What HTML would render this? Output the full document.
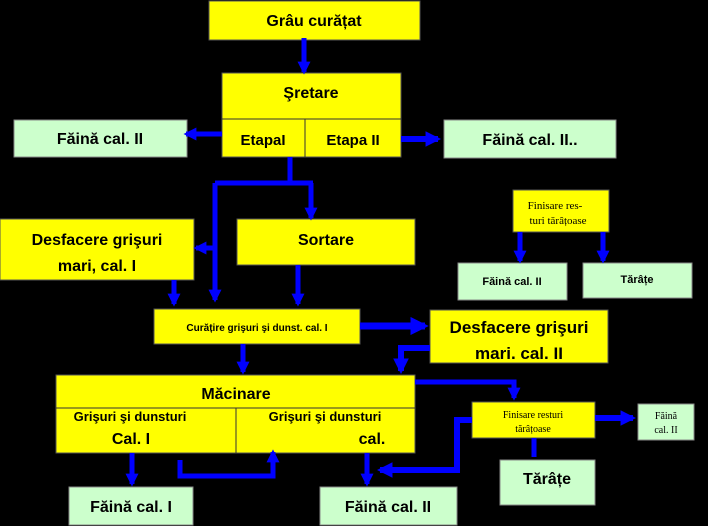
<!DOCTYPE html>
<html><head><meta charset="utf-8"><style>
html,body{margin:0;padding:0;background:#000;}
svg{display:block}
text{font-family:"Liberation Sans",sans-serif;font-weight:bold;fill:#000;text-anchor:middle}
.s{font-family:"Liberation Serif",serif;font-weight:normal}
</style></head><body>
<svg width="708" height="526" viewBox="0 0 708 526" xmlns="http://www.w3.org/2000/svg">
<rect width="708" height="526" fill="#000"/>
<defs>
<marker id="a" viewBox="0 0 10 10" refX="8" refY="5" markerWidth="2.6" markerHeight="2.6" orient="auto" markerUnits="strokeWidth"><path d="M0,0L10,5L0,10z" fill="#0000ff"/></marker>
</defs>
<g fill="#ffff00" stroke="#555" stroke-width="1">
<rect x="209" y="1" width="211" height="39"/>
<rect x="222" y="73" width="179" height="84"/>
<rect x="0" y="219" width="194" height="61"/>
<rect x="237" y="219" width="178" height="46"/>
<rect x="513" y="190" width="96" height="42"/>
<rect x="154" y="309" width="206" height="35"/>
<rect x="430" y="310" width="178" height="53"/>
<rect x="56" y="375" width="359" height="78"/>
<rect x="472" y="402" width="123" height="36"/>
</g>
<g stroke="#333" stroke-width="1">
<line x1="222" y1="119" x2="401" y2="119"/><line x1="305" y1="119" x2="305" y2="157"/>
<line x1="56" y1="408" x2="415" y2="408"/><line x1="236" y1="408" x2="236" y2="453"/>
</g>
<g fill="#ccffcc" stroke="#888" stroke-width="1">
<rect x="14" y="120" width="173" height="37"/>
<rect x="444" y="120" width="172" height="38"/>
<rect x="458" y="263" width="109" height="37"/>
<rect x="583" y="263" width="109" height="35"/>
<rect x="638" y="404" width="56" height="36"/>
<rect x="500" y="460" width="95" height="45"/>
<rect x="69" y="487" width="124" height="38"/>
<rect x="320" y="487" width="137" height="38"/>
</g>
<g stroke="#0000ff" stroke-width="5" fill="none">
<path d="M304 38V72" marker-end="url(#a)"/>
<path d="M222 134H186" marker-end="url(#a)"/>
<path d="M401 139H438" marker-end="url(#a)" stroke-width="6"/>
<path d="M290 157V183"/>
<path d="M215 183H313"/>
<path d="M215 183V300" marker-end="url(#a)"/>
<path d="M311 183V218" marker-end="url(#a)"/>
<path d="M215 248H196" marker-end="url(#a)"/>
<path d="M520 232V261" marker-end="url(#a)"/>
<path d="M603 232V261" marker-end="url(#a)"/>
<path d="M174 280V304" marker-end="url(#a)"/>
<path d="M298 265V304" marker-end="url(#a)"/>
<path d="M360 326H425" marker-end="url(#a)" stroke-width="7"/>
<path d="M430 348H401V371" marker-end="url(#a)" stroke-width="6"/>
<path d="M243 344V372" marker-end="url(#a)"/>
<path d="M415 382H514V398" marker-end="url(#a)"/>
<path d="M595 418H633" marker-end="url(#a)" stroke-width="6"/>
<path d="M534 438V457"/>
<path d="M472 420H457V470H380" marker-end="url(#a)" stroke-width="6"/>
<path d="M367 453V484" marker-end="url(#a)"/>
<path d="M132 453V484" marker-end="url(#a)"/>
<path d="M180 460V476H273V452" marker-end="url(#a)"/>
</g>
<text x="314" y="26" font-size="16">Grâu curățat</text>
<text x="311" y="98" font-size="16">Şretare</text>
<text x="263" y="145" font-size="15">EtapaI</text>
<text x="353" y="145" font-size="15">Etapa II</text>
<text x="100" y="144" font-size="16">Făină cal. II</text>
<text x="530" y="145" font-size="16">Făină cal. II..</text>
<text x="97" y="245" font-size="16">Desfacere grişuri</text>
<text x="97" y="271" font-size="16">mari, cal. I</text>
<text x="326" y="245" font-size="16">Sortare</text>
<text class="s" x="555" y="209" font-size="11">Finisare res-</text>
<text class="s" x="558" y="224" font-size="11">turi tărâțoase</text>
<text x="512" y="285" font-size="11">Făină cal. II</text>
<text x="637" y="283" font-size="11">Tărâțe</text>
<text x="257" y="331" font-size="10">Curățire grişuri şi dunst. cal. I</text>
<text x="519" y="333" font-size="17">Desfacere grişuri</text>
<text x="519" y="359" font-size="17">mari. cal. II</text>
<text x="236" y="399" font-size="16">Măcinare</text>
<text x="130" y="421" font-size="13">Grişuri şi dunsturi</text>
<text x="131" y="444" font-size="16">Cal. I</text>
<text x="325" y="421" font-size="13">Grişuri şi dunsturi</text>
<text x="372" y="444" font-size="16">cal.</text>
<text class="s" x="533" y="418" font-size="10">Finisare resturi</text>
<text class="s" x="533" y="432" font-size="10">tărâțoase</text>
<text class="s" x="666" y="419" font-size="10">Făină</text>
<text class="s" x="666" y="433" font-size="10">cal. II</text>
<text x="547" y="484" font-size="16">Tărâțe</text>
<text x="131" y="512" font-size="16">Făină cal. I</text>
<text x="388" y="512" font-size="16">Făină cal. II</text>
</svg>
</body></html>
